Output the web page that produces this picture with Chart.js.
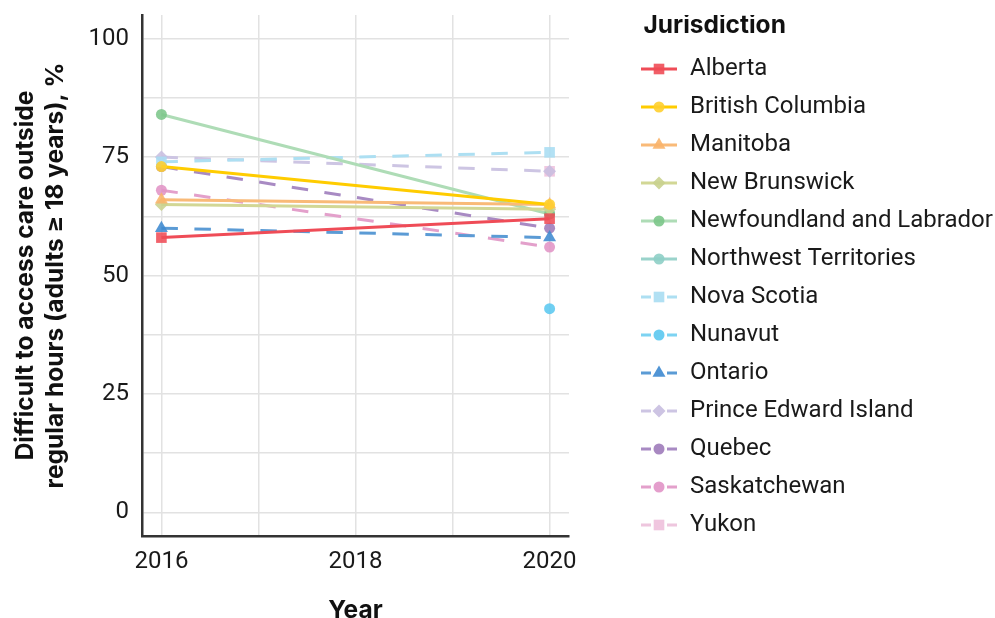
<!DOCTYPE html>
<html><head><meta charset="utf-8">
<script src="https://cdn.jsdelivr.net/npm/chart.js"></script>
<style>html,body{margin:0;padding:0;background:#fff}#wrap{position:relative;width:995px;height:618px}</style>
</head><body><div id="wrap"><canvas id="c" width="995" height="618"></canvas></div>
<script>
// ---- data ----
const years = [2016, 2020];
const seriesNames = ['Alberta', 'British Columbia', 'Manitoba', 'New Brunswick', 'Newfoundland and Labrador', 'Northwest Territories', 'Nova Scotia', 'Nunavut', 'Ontario', 'Prince Edward Island', 'Quebec', 'Saskatchewan', 'Yukon'];
const alberta = [58, 62];
const britishColumbia = [73, 65];
const manitoba = [66, 65];
const newBrunswick = [65, 64];
const newfoundlandLabrador = [84, 63];
const northwestTerritories = [null, 63];
const novaScotia = [74, 76];
const nunavut = [null, 43];
const ontario = [60, 58];
const princeEdwardIsland = [75, 72];
const quebec = [73, 60];
const saskatchewan = [68, 56];
const yukon = [null, 72];
const seriesValues = [alberta, britishColumbia, manitoba, newBrunswick, newfoundlandLabrador, northwestTerritories, novaScotia, nunavut, ontario, princeEdwardIsland, quebec, saskatchewan, yukon];
const xGridTicks = [2016, 2017, 2018, 2019, 2020];
const xTickLabels = [2016, 2018, 2020];
const yGridTicks = [0, 12.5, 25, 37.5, 50, 62.5, 75, 87.5, 100];
const yTickLabels = [0, 25, 50, 75, 100];
const xTitle = 'Year';
const yTitle = ['Difficult to access care outside', 'regular hours (adults \u2265 18 years), %'];
const legendTitle = 'Jurisdiction';

// ---- styles ----
const styles = [
  {point: '#EF4C57', line: '#EF4C57', dash: false, shape: 'rect', r: 7.5},
  {point: '#FFCF2E', line: '#FFCC00', dash: false, shape: 'circle', r: 5.5},
  {point: '#F9B46A', line: '#F9BA78', dash: false, shape: 'triangle', r: 7.5},
  {point: '#C9D18E', line: '#D2D795', dash: false, shape: 'rectRot', r: 6.5},
  {point: '#7CC68A', line: '#AEDCB6', dash: false, shape: 'circle', r: 5.5},
  {point: '#8ECFC6', line: '#9AD3CB', dash: false, shape: 'circle', r: 5.5},
  {point: '#A9DDF2', line: '#ADDFF2', dash: true, shape: 'rect', r: 7.5},
  {point: '#5BC8F0', line: '#7DD3F2', dash: true, shape: 'circle', r: 5.5},
  {point: '#3E8AD0', line: '#5B9BD5', dash: true, shape: 'triangle', r: 7.5},
  {point: '#C8BEE0', line: '#CDC5E3', dash: true, shape: 'rectRot', r: 6.5},
  {point: '#9E7BBA', line: '#A88AC3', dash: true, shape: 'circle', r: 5.5},
  {point: '#E194C6', line: '#E3A0CB', dash: true, shape: 'circle', r: 5.5},
  {point: '#EEC0DC', line: '#EEC6DE', dash: true, shape: 'rect', r: 7.5}
];
const TICK_FONT = 'Roboto';
const TITLE_FONT = 'Inter';
const DASH = [16.5, 16.5];
const LINE_W = 3;

function rgba(hex, a) {
  const n = parseInt(hex.slice(1), 16);
  return `rgba(${(n >> 16) & 255},${(n >> 8) & 255},${n & 255},${a})`;
}

// legend symbols (line + marker), markers drawn with Chart.js' own point renderer
function legendSymbol(s) {
  const cv = document.createElement('canvas');
  cv.width = 38; cv.height = 22;
  const ctx = cv.getContext('2d');
  ctx.strokeStyle = s.line;
  ctx.lineWidth = LINE_W;
  if (s.dash) ctx.setLineDash([10, 16]);
  ctx.beginPath(); ctx.moveTo(1, 11); ctx.lineTo(37, 11); ctx.stroke();
  ctx.setLineDash([]);
  ctx.fillStyle = rgba(s.point, 0.9);
  Chart.helpers.drawPoint(ctx, {pointStyle: s.shape, radius: s.r, rotation: 0, borderWidth: 0}, 19, 11);
  return cv;
}
const legendImgs = styles.map(legendSymbol);

const datasets = seriesNames.map((name, i) => {
  const s = styles[i];
  return {
    label: name,
    data: years.map((yr, j) => ({x: yr, y: seriesValues[i][j]})),
    borderColor: s.line,
    backgroundColor: rgba(s.point, 0.88),
    pointBackgroundColor: rgba(s.point, 0.88),
    pointBorderWidth: 0,
    pointBorderColor: 'rgba(0,0,0,0)',
    pointStyle: s.shape,
    pointRadius: s.r,
    pointHoverRadius: s.r,
    borderWidth: LINE_W,
    borderDash: s.dash ? DASH : [],
    tension: 0,
    fill: false
  };
});

const gridColor = '#E2E2E2';
const titleFont = {family: TITLE_FONT, size: 24.5, weight: '700', lineHeight: 1};
new Chart(document.getElementById('c'), {
  type: 'line',
  data: {datasets},
  options: {
    responsive: false, animation: false, devicePixelRatio: 1,
    layout: {padding: {top: 15, left: 0, right: 0, bottom: 0}},
    plugins: {
      tooltip: {enabled: false},
      legend: {
        position: 'right', align: 'start', maxWidth: 369,
        title: {display: true, position: 'start', text: '   ' + legendTitle, color: '#111', font: titleFont, padding: {top: -2, bottom: 5.5}},
        labels: {
          usePointStyle: true, pointStyleWidth: 38, padding: 14, color: '#1a1a1a',
          font: {family: TICK_FONT, size: 24},
          generateLabels(ch) {
            const items = Chart.defaults.plugins.legend.labels.generateLabels(ch);
            items.forEach(it => { it.pointStyle = legendImgs[it.datasetIndex]; it.rotation = 0; });
            return items;
          }
        }
      }
    },
    scales: {
      x: {
        type: 'linear', position: 'bottom', min: 2015.8, max: 2020.2,
        afterFit(s) { s.height = 82; s.paddingLeft = 0; s.paddingRight = 0; },
        afterBuildTicks(s) { s.ticks = xGridTicks.map(v => ({value: v})); },
        ticks: {callback: v => xTickLabels.includes(v) ? String(v) : '', color: '#1a1a1a', font: {family: TICK_FONT, size: 24}, padding: 12, maxRotation: 0, autoSkip: false},
        grid: {color: gridColor, lineWidth: 1.5, drawTicks: false},
        border: {display: true, color: '#333', width: 2.5},
        title: {display: true, text: xTitle, color: '#111', font: titleFont, padding: {top: 0, bottom: -5}}
      },
      y: {
        type: 'linear', position: 'left', min: -5, max: 105,
        afterFit(s) { s.width = 142; s.paddingTop = 0; s.paddingBottom = 0; },
        afterBuildTicks(s) { s.ticks = yGridTicks.map(v => ({value: v})); },
        ticks: {callback: v => yTickLabels.includes(v) ? String(v) : '', color: '#1a1a1a', font: {family: TICK_FONT, size: 24}, padding: 13},
        grid: {color: gridColor, lineWidth: 1.5, drawTicks: false},
        border: {display: true, color: '#333', width: 2.5},
        title: {display: true, text: yTitle, color: '#111', font: {family: TITLE_FONT, size: 24.5, weight: '700', lineHeight: 1.224}, padding: {top: 11, bottom: 0}}
      },
      gap: {
        type: 'linear', position: 'right', display: true,
        afterFit(s) { s.width = 57; },
        ticks: {display: false}, grid: {display: false}, border: {display: false}
      }
    }
  }
});
</script></body></html>
